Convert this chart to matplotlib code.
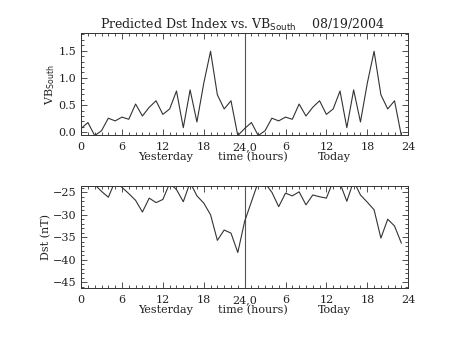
import matplotlib
matplotlib.use("Agg")
import matplotlib.pyplot as plt
from matplotlib.ticker import MultipleLocator, FixedLocator, FormatStrFormatter

# Data (hourly, 48 hours: yesterday 0-23, today 24-47)
hours = list(range(48))
vb_day = [0.07, 0.18, -0.06, 0.03, 0.26, 0.21, 0.28, 0.24, 0.52, 0.30,
          0.46, 0.58, 0.33, 0.43, 0.76, 0.085, 0.78, 0.19, 0.90, 1.49,
          0.69, 0.43, 0.58, -0.06]
vb_south = vb_day + vb_day
dst = [-22.0, -22.5, -23.3, -24.8, -26.1, -22.5, -23.9, -25.3, -26.8, -29.4,
       -26.3, -27.3, -26.6, -23.0, -24.4, -27.1, -22.8, -25.8, -27.4, -30.0,
       -35.7, -33.4, -34.1, -38.4,
       -31.5, -27.1, -22.7, -23.0, -25.0, -28.2, -25.2, -25.8, -24.9, -27.8,
       -25.6, -26.0, -26.3, -22.5, -23.0, -27.0, -22.5, -25.6, -27.2, -28.9,
       -35.2, -31.0, -32.5, -36.3]
xtick_pos = [0, 6, 12, 18, 24, 30, 36, 42, 48]
xtick_labels = ["0", "6", "12", "18", "24,0", "6", "12", "18", "24"]
sub_labels = ["Yesterday", "time (hours)", "Today"]

plt.rcParams['font.family'] = ['DejaVu Serif']
plt.rcParams['font.size'] = 8
fig = plt.figure(figsize=(4.53, 3.40), dpi=100)
ax1 = fig.add_axes([0.179, 0.602, 0.722, 0.300])
ax2 = fig.add_axes([0.179, 0.153, 0.722, 0.300])

lc = '#333333'
tc = '#222222'
for ax in (ax1, ax2):
    ax.set_xlim(0, 48)
    ax.xaxis.set_major_locator(FixedLocator(xtick_pos))
    ax.set_xticklabels(xtick_labels)
    ax.xaxis.set_minor_locator(MultipleLocator(1))
    ax.tick_params(which='both', direction='in', top=True, right=True,
                   colors=lc, labelcolor=tc, labelsize=8, width=0.6)
    ax.tick_params(which='major', length=4)
    ax.tick_params(which='minor', length=2)
    ax.tick_params(axis='x', pad=5)
    for s in ax.spines.values():
        s.set_color(lc)
        s.set_linewidth(0.7)
    ax.axvline(24, color='#555555', lw=0.8)
    for xf, lab in zip([0.259, 0.526, 0.774], sub_labels):
        ax.text(xf, -0.215, lab, transform=ax.transAxes, ha='center',
                va='center', fontsize=8, color=tc)

ax1.plot(hours, vb_south, color=lc, lw=0.8)
ax1.set_ylim(-0.055, 1.82)
ax1.yaxis.set_major_locator(MultipleLocator(0.5))
ax1.yaxis.set_minor_locator(MultipleLocator(0.1))
ax1.yaxis.set_major_formatter(FormatStrFormatter('%.1f'))
ax1.set_ylabel(r"VB$_{\rm South}$", fontsize=8, color=tc, labelpad=1)

ax2.plot(hours, dst, color=lc, lw=0.8)
ax2.set_ylim(-46.3, -23.6)
ax2.yaxis.set_major_locator(MultipleLocator(5))
ax2.yaxis.set_minor_locator(MultipleLocator(1))
ax2.set_ylabel("Dst (nT)", fontsize=8, color=tc, labelpad=1)

fig.text(0.535, 0.927, r"Predicted Dst Index vs. VB$_{\rm South}$    08/19/2004",
         ha='center', va='center', fontsize=9, color=tc)

fig.savefig("out.png", dpi=100)
